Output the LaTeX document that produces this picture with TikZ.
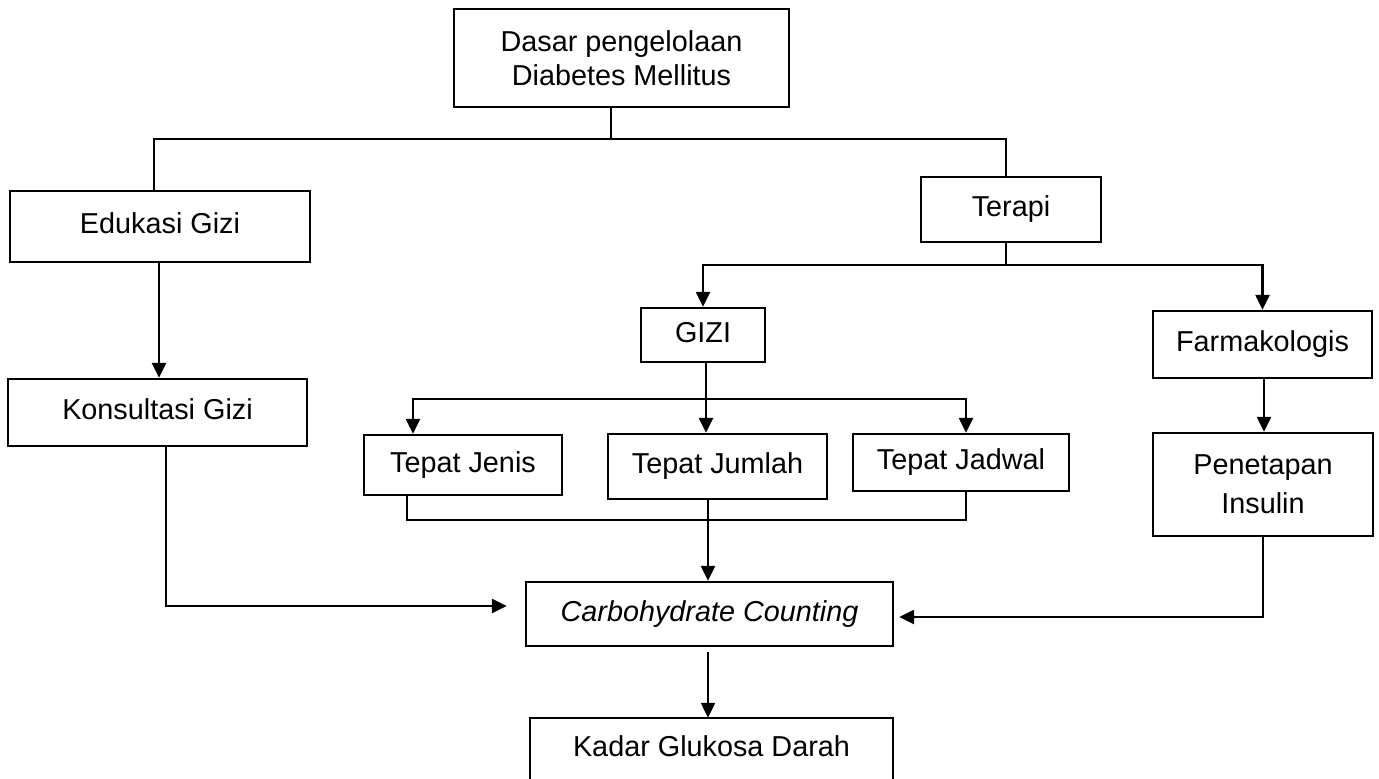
\documentclass[tikz,border=0pt]{standalone}
\usepackage{fontspec}
\setmainfont{Liberation Sans}
\usetikzlibrary{arrows.meta,calc}
\begin{document}
\begin{tikzpicture}[x=1pt,y=-1pt,
  every node/.style={font=\fontsize{28.8}{34}\selectfont},
  box/.style={draw,line width=2.3pt,inner sep=0pt,text height=20.6pt,text depth=6pt},
  mbox/.style={draw,line width=2.3pt,inner sep=0pt,align=center},
  ln/.style={line width=2.3pt},
  arr/.style={line width=2.3pt,-{Triangle[length=15pt,width=14pt]}}]
\useasboundingbox (0,0) rectangle (1379,779);
% nodes
\node[mbox,minimum width=335pt,minimum height=98pt] (dasar) at (621.5,58) {Dasar pengelolaan\\Diabetes Mellitus};
\node[box,minimum width=300pt,minimum height=71pt] (edu) at (160,226.5) {Edukasi Gizi};
\node[box,minimum width=299pt,minimum height=67pt] (kons) at (157.5,412.5) {Konsultasi Gizi};
\node[box,minimum width=180pt,minimum height=65pt] (terapi) at (1011,209.5) {Terapi};
\node[box,minimum width=124pt,minimum height=54pt] (gizi) at (703,335) {GIZI};
\node[box,minimum width=219pt,minimum height=67pt] (farm) at (1262.5,344.5) {Farmakologis};
\node[box,minimum width=198pt,minimum height=60pt] (jenis) at (463,465) {Tepat Jenis};
\node[box,minimum width=219pt,minimum height=65pt] (jumlah) at (717.5,466.5) {Tepat Jumlah};
\node[box,minimum width=216pt,minimum height=57pt] (jadwal) at (961,462.5) {Tepat Jadwal};
\node[mbox,minimum width=220pt,minimum height=103pt] (pen) at (1263,484.5) {Penetapan\\[5pt]Insulin};
\node[box,minimum width=367pt,minimum height=64pt] (carbo) at (709.5,614) {\itshape Carbohydrate Counting};
\node[inner sep=0pt,text height=20.6pt,text depth=6pt,minimum width=363pt,minimum height=62pt] (kadar) at (711.5,749) {Kadar Glukosa Darah};
\draw[ln] (kadar.south west) -- (kadar.north west) -- (kadar.north east) -- (kadar.south east);
% coordinates
\coordinate (dt) at (611,139);
\coordinate (busL) at (154,139);
\coordinate (busR) at (1006,139);
\coordinate (t2) at (1006,265);
\coordinate (g2) at (706,399);
\coordinate (jL) at (413,399);
\coordinate (jR) at (966,399);
\coordinate (bL) at (407,520);
\coordinate (bR) at (966,520);
\coordinate (cx) at (708,520);
\coordinate (kc) at (166,606);
\coordinate (pc) at (1263,617);
\coordinate (ex) at (159,300);
\coordinate (fx) at (1264,400);
% connectors
\draw[ln] (dasar.south -| dt) -- (dt);
\draw[ln] (busL |- edu.north) -- (busL) -- (busR) -- (busR |- terapi.north);
\draw[ln] (t2 |- terapi.south) -- (t2);
\draw[arr] (t2) -| (gizi.north);
\draw[arr] (t2) -| (farm.north);
\draw[arr] (edu.south -| ex) -- (kons.north -| ex);
\draw[arr] (gizi.south -| g2) -- (jumlah.north -| g2);
\draw[arr] (g2) -| (jL |- jenis.north);
\draw[arr] (g2) -| (jR |- jadwal.north);
\draw[ln] (bL |- jenis.south) -- (bL) -- (bR) -- (bR |- jadwal.south);
\draw[arr] (jumlah.south -| cx) -- (carbo.north -| cx);
\draw[arr] ([yshift=-5pt]carbo.south -| cx) -- (kadar.north -| cx);
\draw[arr] (kc |- kons.south) -- (kc) -- ([xshift=-18pt]carbo.west |- kc);
\draw[arr] (farm.south -| fx) -- (pen.north -| fx);
\draw[arr] (pen.south -| pc) -- (pc) -- ([xshift=5pt]carbo.east |- pc);
\end{tikzpicture}
\end{document}
